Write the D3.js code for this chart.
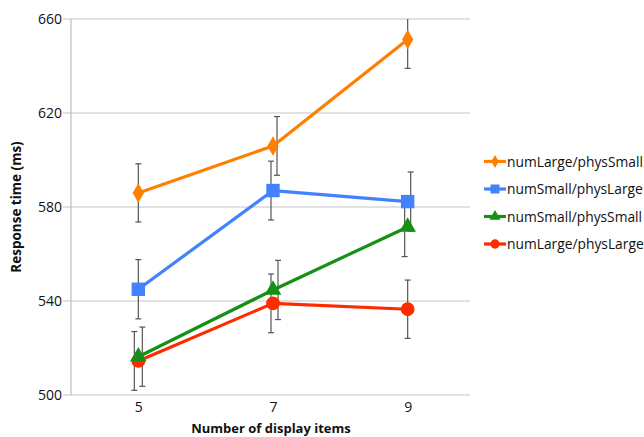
<!DOCTYPE html>
<html><head><meta charset="utf-8">
<script src="https://cdn.jsdelivr.net/npm/d3@7"></script>
<style>body{margin:0;background:#fff;} svg{display:block;}</style>
</head><body>
<svg id="c" width="644" height="437"></svg>
<script>
const categories = [5, 7, 9];
const yTicks = [500, 540, 580, 620, 660];
const seriesNames = ["numLarge/physSmall", "numSmall/physLarge", "numSmall/physSmall", "numLarge/physLarge"];
const numLargePhysSmall = [586, 606, 651.3];
const numSmallPhysLarge = [545, 587, 582.3];
const numSmallPhysSmall = [516.3, 544.7, 571.5];
const numLargePhysLarge = [514.5, 539, 536.5];
const errLargeSmall = [12.4, 12.5, 12.3];
const errSmallLarge = [12.6, 12.5, 12.6];
const errSmallSmall = [12.6, 12.6, 12.6];
const errLargeLarge = [12.5, 12.5, 12.4];

// drawing style (not data)
const colors = ["#FF7F00", "#4282FF", "#159015", "#FF2B00"];
const shapes = [d3.symbolDiamond, d3.symbolSquare, d3.symbolTriangle, d3.symbolCircle];
const sizes = [110, 180, 120, 150];
const errDx = [[0, 4, 0], [0, -2, 3], [4, 5, -3], [-4, -2, 0]];

const series = [
  {name: seriesNames[0], values: numLargePhysSmall, err: errLargeSmall},
  {name: seriesNames[1], values: numSmallPhysLarge, err: errSmallLarge},
  {name: seriesNames[2], values: numSmallPhysSmall, err: errSmallSmall},
  {name: seriesNames[3], values: numLargePhysLarge, err: errLargeLarge}
];

const svg = d3.select("#c");
const L = 71, R = 470, T = 19, B = 395;
const x = d3.scalePoint().domain(categories).range([L, 475]).padding(0.5);
const y = d3.scaleLinear().domain([500, 660]).range([B, T]);
const font = "'Open Sans', 'DejaVu Sans', sans-serif";

svg.append("defs").append("clipPath").attr("id", "clip")
  .append("rect").attr("x", L).attr("y", T).attr("width", R - L + 10).attr("height", B - T);

// gridlines
svg.append("g").selectAll("line").data(yTicks).join("line")
  .attr("x1", L - 8).attr("x2", R).attr("y1", d => y(d)).attr("y2", d => y(d))
  .attr("stroke", "#c4c4c4").attr("stroke-width", 1.2);
// left axis line
svg.append("line").attr("x1", L).attr("x2", L).attr("y1", T).attr("y2", B)
  .attr("stroke", "#bdbdbd").attr("stroke-width", 1.2);

// y axis labels
const yAxis = d3.axisLeft(y).tickValues(yTicks).tickSize(0).tickPadding(9);
const gy = svg.append("g").attr("transform", `translate(${L},0)`).call(yAxis);
gy.select(".domain").remove();
gy.selectAll("text").attr("font-family", font).attr("font-size", 14).attr("fill", "#111");

// x axis labels
const xAxis = d3.axisBottom(x).tickSize(0).tickPadding(7);
const gx = svg.append("g").attr("transform", `translate(0,${B})`).call(xAxis);
gx.select(".domain").remove();
gx.selectAll("text").attr("font-family", font).attr("font-size", 14).attr("fill", "#111");

// titles
svg.append("text").attr("x", 271).attr("y", 433).attr("text-anchor", "middle")
  .attr("font-family", font).attr("font-weight", "bold").attr("font-size", 13).attr("fill", "#111")
  .text("Number of display items");
svg.append("text").attr("transform", "translate(21,207) rotate(-90)").attr("text-anchor", "middle")
  .attr("font-family", font).attr("font-weight", "bold").attr("font-size", 13.5).attr("fill", "#111")
  .text("Response time (ms)");

const plot = svg.append("g").attr("clip-path", "url(#clip)");

// error bars
series.forEach((s, si) => {
  const g = plot.append("g");
  s.values.forEach((v, i) => {
    const cx = x(categories[i]) + errDx[si][i];
    const y1 = y(v + s.err[i]), y2 = y(v - s.err[i]);
    g.append("line").attr("x1", cx).attr("x2", cx).attr("y1", y1).attr("y2", y2)
      .attr("stroke", "#555").attr("stroke-width", 1.2);
    [y1, y2].forEach(yy => g.append("line").attr("x1", cx - 3).attr("x2", cx + 3)
      .attr("y1", yy).attr("y2", yy).attr("stroke", "#555").attr("stroke-width", 1.2));
  });
});

// lines & markers (draw in reverse so orange on top)
const line = d3.line().x((d, i) => x(categories[i])).y(d => y(d));
[3, 2, 1, 0].forEach(si => {
  const s = series[si];
  plot.append("path").datum(s.values).attr("d", line).attr("fill", "none")
    .attr("stroke", colors[si]).attr("stroke-width", 3.2).attr("stroke-linejoin", "round");
  plot.append("g").selectAll("path").data(s.values).join("path")
    .attr("transform", (d, i) => `translate(${x(categories[i])},${y(d)})`)
    .attr("d", d3.symbol().type(shapes[si]).size(sizes[si])).attr("fill", colors[si]);
});

// legend
const lg = svg.append("g");
series.forEach((s, si) => {
  const yy = 161.5 + si * 27.5;
  lg.append("line").attr("x1", 484).attr("x2", 506).attr("y1", yy).attr("y2", yy)
    .attr("stroke", colors[si]).attr("stroke-width", 3.2);
  lg.append("path").attr("transform", `translate(495,${yy})`)
    .attr("d", d3.symbol().type(shapes[si]).size(sizes[si] * 0.45)).attr("fill", colors[si]);
  lg.append("text").attr("x", 507).attr("y", yy + 5).attr("font-family", font)
    .attr("font-size", 13.8).attr("fill", "#111").text(s.name);
});
</script>
</body></html>
